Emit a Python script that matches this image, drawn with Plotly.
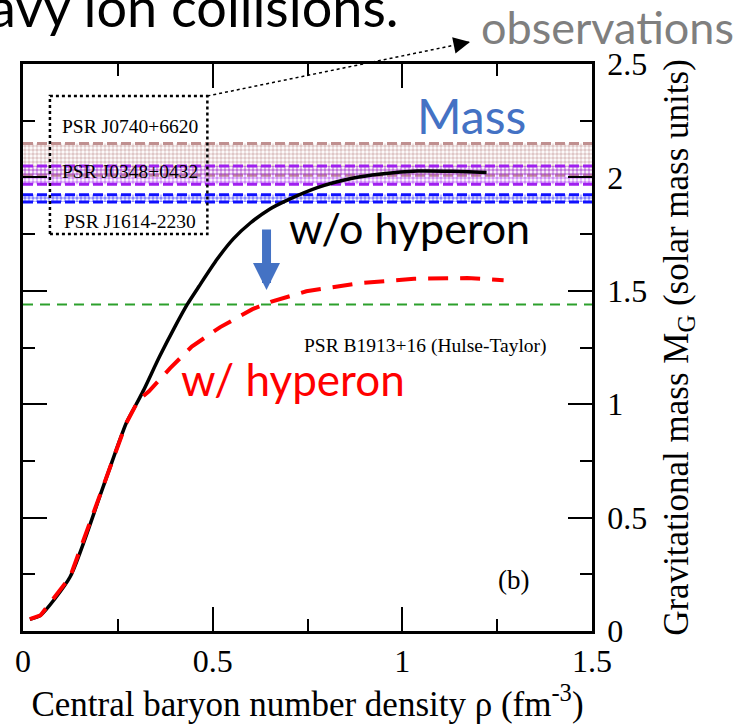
import plotly.graph_objects as go

# ---- data ----
wo_x = [0.018, 0.046, 0.124, 0.208, 0.272, 0.304, 0.318, 0.36, 0.40, 0.433, 0.464, 0.512,
        0.555, 0.60, 0.65, 0.697, 0.776, 0.865, 0.944, 1.041, 1.13, 1.222]
wo_y = [0.052, 0.069, 0.238, 0.62, 0.916, 1.017, 1.062, 1.21, 1.34, 1.44, 1.52, 1.64,
        1.73, 1.80, 1.86, 1.90, 1.955, 1.995, 2.015, 2.028, 2.027, 2.022]
w_x = [0.018, 0.046, 0.124, 0.208, 0.272, 0.304, 0.332, 0.388, 0.445, 0.52, 0.605, 0.653,
       0.747, 0.888, 1.031, 1.171, 1.267]
w_y = [0.052, 0.069, 0.238, 0.62, 0.916, 1.017, 1.057, 1.159, 1.254, 1.34, 1.419, 1.451,
       1.498, 1.534, 1.553, 1.556, 1.547]

band_names = ["PSR J0740+6620", "PSR J0348+0432", "PSR J1614-2230"]
band_lo = [2.01, 1.97, 1.892]
band_hi = [2.15, 2.05, 1.924]
band_colors = ["#c09090", "#a020f0", "#1010ff"]
band_label_y = [2.226, 2.028, 1.807]

hulse_taylor = 1.44

x_range = [0, 1.5]
y_range = [0, 2.5]

SERIF = "Liberation Serif"
SANS = "Lato"

fig = go.Figure()

# bands
for lo, hi, col in zip(band_lo, band_hi, band_colors):
    fig.add_trace(go.Scatter(
        x=[x_range[0], x_range[1], x_range[1], x_range[0], x_range[0]],
        y=[lo, lo, hi, hi, lo], mode="none", fill="toself",
        fillcolor="rgba(0,0,0,0)",
        fillpattern=dict(shape=".", fgcolor=col, bgcolor="rgba(0,0,0,0)", size=4, solidity=0.6),
        showlegend=False, hoverinfo="skip"))
    for v in (lo, hi):
        fig.add_trace(go.Scatter(x=x_range, y=[v, v], mode="lines",
                                 line=dict(color=col, width=3, dash="10px,4px"),
                                 showlegend=False, hoverinfo="skip"))

# Hulse-Taylor line
fig.add_trace(go.Scatter(x=x_range, y=[hulse_taylor, hulse_taylor], mode="lines",
                         line=dict(color="#2ca02c", width=2, dash="10px,7px"),
                         showlegend=False))

# curves
fig.add_trace(go.Scatter(x=wo_x, y=wo_y, mode="lines",
                         line=dict(color="black", width=3.5, shape="spline", smoothing=0.6),
                         showlegend=False))
fig.add_trace(go.Scatter(x=w_x, y=w_y, mode="lines",
                         line=dict(color="#ff0000", width=4, dash="20px,12px"),
                         showlegend=False))

# dotted box around band labels
box_x0, box_x1, box_y0, box_y1 = 0.071, 0.486, 1.75, 2.359
fig.add_shape(type="rect", x0=box_x0, x1=box_x1, y0=box_y0, y1=box_y1, xref="x", yref="y",
              line=dict(color="black", width=2.5, dash="dot"))

annotations = []
for name, ly in zip(band_names, band_label_y):
    annotations.append(dict(x=0.283, y=ly, xref="x", yref="y", text=name, showarrow=False,
                            font=dict(family=SERIF, size=19.5, color="black")))

annotations += [
    dict(x=1.060, y=1.256, xref="x", yref="y", text="PSR B1913+16 (Hulse-Taylor)",
         showarrow=False, font=dict(family=SERIF, size=19.5, color="black")),
    dict(x=1.293, y=0.223, xref="x", yref="y", text="(b)", showarrow=False,
         font=dict(family=SERIF, size=27, color="black")),
    dict(x=1.182, y=2.274, xref="x", yref="y", text="Mass", showarrow=False,
         font=dict(family=SANS, size=48, color="#4472c4")),
    dict(x=1.018, y=1.78, xref="x", yref="y", text="w/o hyperon", showarrow=False,
         font=dict(family=SANS, size=43, color="black")),
    dict(x=0.711, y=1.112, xref="x", yref="y", text="w/ hyperon", showarrow=False,
         font=dict(family=SANS, size=44, color="#ff0000")),
    # blue down arrow
    dict(x=0.642, y=1.503, xref="x", yref="y", ax=0, ay=-62, axref="pixel", ayref="pixel",
         text="", showarrow=True, arrowhead=2, arrowwidth=9, arrowsize=0.6,
         arrowcolor="#4472c4"),
    dict(x=1.028, y=1.066, xref="paper", yref="paper", text="observations", showarrow=False,
         xanchor="center", yanchor="middle",
         font=dict(family=SANS, size=45, color="#7f7f7f")),
    dict(x=0.30, y=1.102, xref="paper", yref="paper", text="avy ion collisions.",
         showarrow=False, xanchor="center", yanchor="middle",
         font=dict(family=SANS, size=54, color="black")),
]

# dotted pointer line from box corner to "observations"
L, R, T, B = 23, 159, 64, 96
W, H = 751, 727
pw, ph = W - L - R, H - T - B
corner_px = box_x1 / (x_range[1] - x_range[0])
corner_py = box_y1 / (y_range[1] - y_range[0])
tip_px, tip_py = (470 - L) / pw, 1 + (T - 42) / ph
fig.add_shape(type="line", xref="paper", yref="paper", x0=corner_px, y0=corner_py,
              x1=tip_px, y1=tip_py, line=dict(color="black", width=1.5, dash="dot"))
dx = (tip_px - corner_px) * pw
dy = (tip_py - corner_py) * ph
ln = (dx * dx + dy * dy) ** 0.5
annotations.append(dict(x=tip_px, y=tip_py, xref="paper", yref="paper",
                        ax=-dx / ln * 16, ay=dy / ln * 16, axref="pixel", ayref="pixel",
                        text="", showarrow=True, arrowhead=2, arrowwidth=1.5, arrowsize=2.2,
                        arrowcolor="black"))

fig.update_layout(
    width=W, height=H, margin=dict(l=L, r=R, t=T, b=B),
    paper_bgcolor="white", plot_bgcolor="white",
    annotations=annotations, showlegend=False,
)
fig.update_xaxes(range=x_range, tickvals=[0, 0.5, 1, 1.5], ticktext=["0", "0.5", "1", "1.5"],
                 ticks="inside", ticklen=24, tickwidth=2, tickcolor="black",
                 minor=dict(dtick=0.25, ticklen=12, tickwidth=2, ticks="inside", tickcolor="black"),
                 showline=True, linecolor="black", linewidth=2.5, mirror="ticks",
                 showgrid=False, zeroline=False,
                 tickfont=dict(family=SERIF, size=32, color="black"),
                 title=dict(text="Central baryon number density ρ (fm<sup>-3</sup>)",
                            font=dict(family=SERIF, size=35, color="black"), standoff=12))
fig.update_yaxes(range=y_range, side="right", tickvals=[0, 0.5, 1, 1.5, 2, 2.5],
                 ticktext=["0", "0.5", "1", "1.5", "2", "2.5"],
                 ticks="inside", ticklen=24, tickwidth=2, tickcolor="black",
                 minor=dict(dtick=0.25, ticklen=12, tickwidth=2, ticks="inside", tickcolor="black"),
                 showline=True, linecolor="black", linewidth=2.5, mirror="ticks",
                 showgrid=False, zeroline=False, ticklabelstandoff=6,
                 tickfont=dict(family=SERIF, size=32, color="black"),
                 title=dict(text="Gravitational mass M<sub>G</sub> (solar mass units)",
                            font=dict(family=SERIF, size=35, color="black"), standoff=18))

fig.write_html("out.html")
